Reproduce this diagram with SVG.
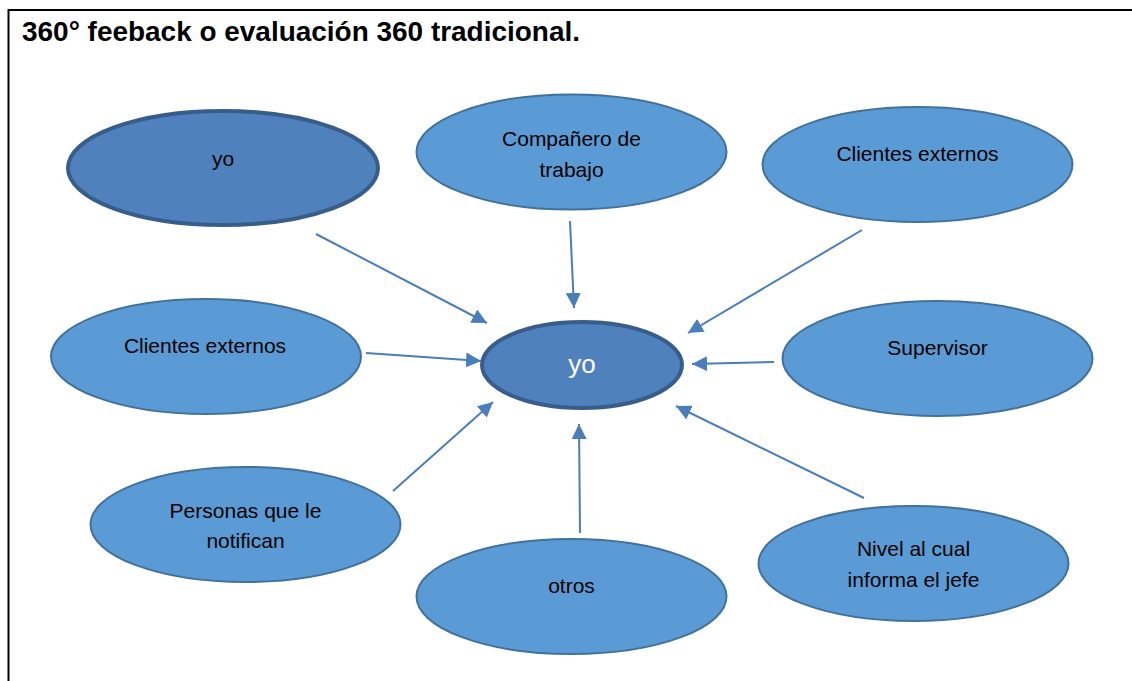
<svg xmlns="http://www.w3.org/2000/svg" width="1132" height="681" viewBox="0 0 1132 681">
<style>
.node{fill:#5B9BD5;stroke:#41719C;stroke-width:2}
.dark{fill:#4F81BD;stroke:#385D8A;stroke-width:4}
.lbl{font-family:"Liberation Sans",Arial,sans-serif;font-size:21px;fill:#000;text-anchor:middle}
.conn line{stroke:#4A7EBB;stroke-width:2;marker-end:url(#arr)}
</style>
<defs>
<marker id="arr" markerUnits="userSpaceOnUse" markerWidth="15" markerHeight="15" refX="15" refY="7.5" orient="auto" viewBox="0 0 15 15">
<path d="M0,0 L15,7.5 L0,15 z" fill="#4A7EBB"/>
</marker>
</defs>
<rect width="1132" height="681" fill="#fff"/>
<path d="M8.5 681 V10 H1132" fill="none" stroke="#000" stroke-width="2"/>
<text x="22" y="41" font-family="Liberation Sans,Arial,sans-serif" font-weight="bold" font-size="27" textLength="558" lengthAdjust="spacingAndGlyphs">360° feeback o evaluación 360 tradicional.</text>
<g id="n-yo-self"><ellipse class="dark" cx="223" cy="168" rx="155" ry="57"/><text class="lbl" x="223" y="166">yo</text></g>
<g id="n-companero"><ellipse class="node" cx="571.5" cy="152" rx="155" ry="57.5"/><text class="lbl" x="571.5" y="146">Compañero de</text><text class="lbl" x="571.5" y="177">trabajo</text></g>
<g id="n-clientes-tr"><ellipse class="node" cx="917.5" cy="164.5" rx="155" ry="57.5"/><text class="lbl" x="917.5" y="161">Clientes externos</text></g>
<g id="n-clientes-l"><ellipse class="node" cx="206" cy="356.5" rx="155" ry="57.5"/><text class="lbl" x="205" y="353">Clientes externos</text></g>
<g id="n-center"><ellipse class="dark" cx="582" cy="365" rx="100" ry="43"/><text class="lbl" x="582" y="373" style="fill:#fff;font-size:26px">yo</text></g>
<g id="n-supervisor"><ellipse class="node" cx="937.5" cy="358.5" rx="155" ry="57.5"/><text class="lbl" x="937.5" y="355">Supervisor</text></g>
<g id="n-personas"><ellipse class="node" cx="245.5" cy="524.5" rx="155" ry="57.5"/><text class="lbl" x="245.5" y="518">Personas que le</text><text class="lbl" x="245.5" y="548">notifican</text></g>
<g id="n-otros"><ellipse class="node" cx="571.5" cy="596.5" rx="155" ry="57.5"/><text class="lbl" x="571.5" y="593">otros</text></g>
<g id="n-nivel"><ellipse class="node" cx="913.5" cy="563.5" rx="155" ry="57.5"/><text class="lbl" x="913.5" y="556">Nivel al cual</text><text class="lbl" x="913.5" y="587">informa el jefe</text></g>
<g id="connectors" class="conn">
<line x1="316" y1="234" x2="487" y2="323"/>
<line x1="570" y1="221" x2="574" y2="308"/>
<line x1="862" y1="230" x2="688" y2="333"/>
<line x1="366" y1="353" x2="481" y2="361"/>
<line x1="774" y1="362" x2="692" y2="364"/>
<line x1="393" y1="491" x2="493" y2="402"/>
<line x1="580" y1="533" x2="579" y2="424"/>
<line x1="864" y1="498" x2="676" y2="406"/>
</g>
</svg>
